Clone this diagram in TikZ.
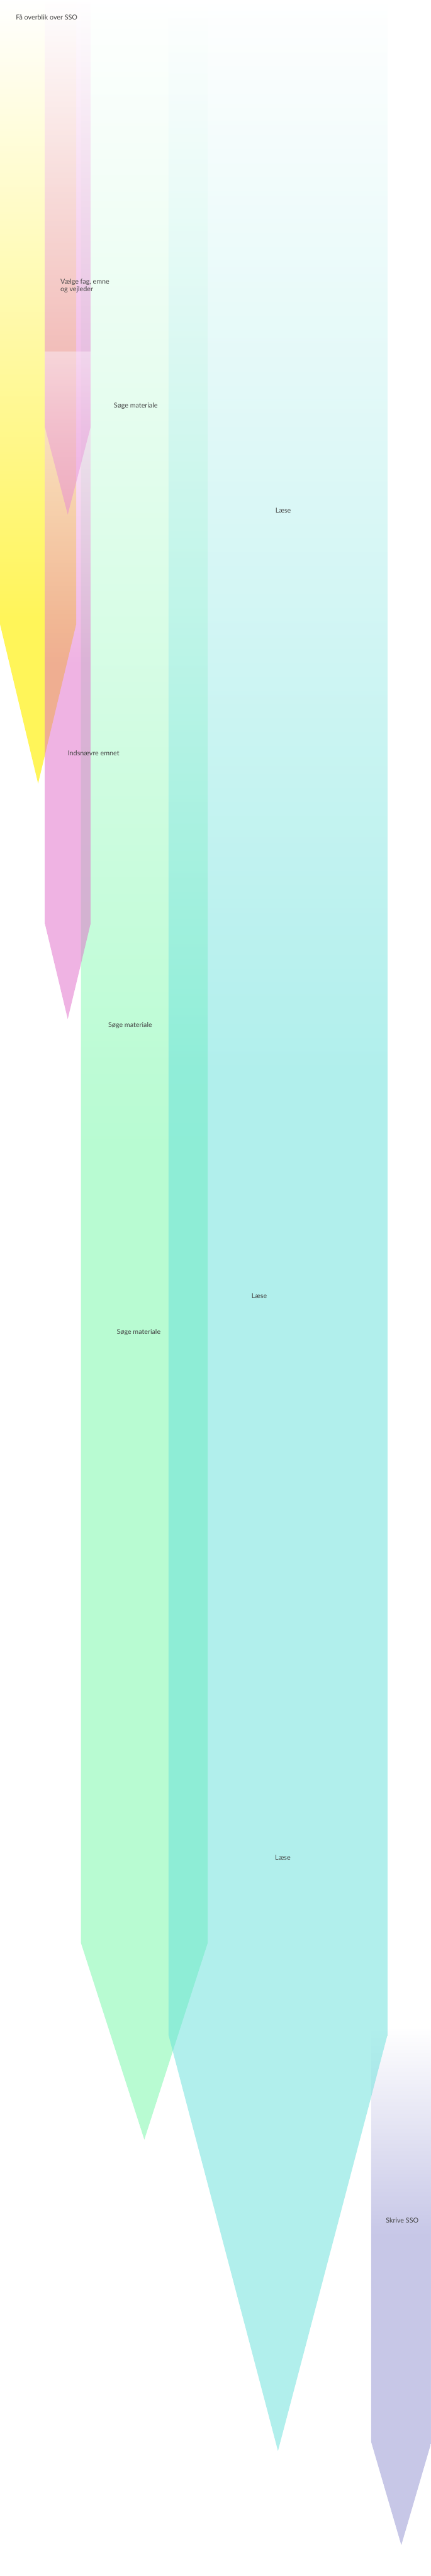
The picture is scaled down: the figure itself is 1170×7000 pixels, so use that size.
\documentclass[tikz,border=0pt]{standalone}
\usepackage{fontspec}
\setmainfont{Lato}
\definecolor{cY}{HTML}{FFF000}
\definecolor{cP}{HTML}{E169C9}
\definecolor{cG}{HTML}{73F9A7}
\definecolor{cC}{HTML}{65E1DB}
\definecolor{cL}{HTML}{9191D1}
\definecolor{txt}{HTML}{454545}
\colorlet{cPlight}{cP!12!white}
\pgfdeclareverticalshading{shY}{100bp}{color(0bp)=(cY); color(35.2bp)=(cY); color(75bp)=(white); color(100bp)=(white)}
\pgfdeclareverticalshading{shPa}{100bp}{color(0bp)=(cP); color(33.5bp)=(cP); color(75bp)=(white); color(100bp)=(white)}
\pgfdeclareverticalshading{shPb}{100bp}{color(0bp)=(cP); color(51.7bp)=(cP); color(75bp)=(cPlight); color(100bp)=(cPlight)}
\pgfdeclareverticalshading{shG}{100bp}{color(0bp)=(cG); color(48.3bp)=(cG); color(75bp)=(white); color(100bp)=(white)}
\pgfdeclareverticalshading{shC}{100bp}{color(0bp)=(cC); color(53.2bp)=(cC); color(75bp)=(white); color(100bp)=(white)}
\pgfdeclareverticalshading{shL}{100bp}{color(0bp)=(cL); color(55bp)=(cL); color(75bp)=(white); color(100bp)=(white)}
\tikzset{
  lbl/.style={inner sep=0pt, text=txt, font=\fontsize{18.4}{21}\selectfont},
  band/.style={fill opacity=0.5},
}
\begin{document}
\begin{tikzpicture}[x=1pt,y=-1pt]
\useasboundingbox (0,0) rectangle (1170,7000);
\clip (0,0) rectangle (1170,7000);
\fill[white] (0,0) rectangle (1170,7000);
% Fa overblik (yellow)
\shade[shading=shY, fill opacity=0.65] (0,0) -- (207,0) -- (207,1696) -- (103.5,2129) -- (0,1696) -- cycle;
% Skrive SSO (lavender)
\shade[shading=shL, band] (1008,5510) -- (1172,5510) -- (1172,6635) -- (1090,6916) -- (1008,6635) -- cycle;
% Soge materiale (green)
\shade[shading=shG, band] (220,0) -- (564,0) -- (564,5280) -- (392,5814) -- (220,5280) -- cycle;
% Laese (cyan)
\shade[shading=shC, band] (458,0) -- (1052,0) -- (1052,5531) -- (755,6660) -- (458,5531) -- cycle;
% Vaelge fag (pink)
\shade[shading=shPa, band] (122,0) -- (246,0) -- (246,1161) -- (184,1398) -- (122,1161) -- cycle;
% Indsnaevre (pink)
\shade[shading=shPb, band] (122,955) -- (246,955) -- (246,2510) -- (184,2769) -- (122,2510) -- cycle;

\node[lbl, anchor=base west] (t0) at (43,53) {Få overblik over SSO};
\node[lbl, anchor=north west, align=left] (t1) at (164,757) {Vælge fag, emne\\og vejleder};
\node[lbl, anchor=base west] (t2) at (309,1108) {Søge materiale};
\node[lbl, anchor=base west] (t3) at (748,1393) {Læse};
\node[lbl, anchor=base west] (t4) at (184,2053) {Indsnævre emnet};
\node[lbl, anchor=base west] (t5) at (294,2791) {Søge materiale};
\node[lbl, anchor=base west] (t6) at (317,3625) {Søge materiale};
\node[lbl, anchor=base west] (t7) at (683,3529) {Læse};
\node[lbl, anchor=base west] (t8) at (747,5054) {Læse};
\node[lbl, anchor=base west] (t9) at (1048,6041) {Skrive SSO};
\end{tikzpicture}
\end{document}
